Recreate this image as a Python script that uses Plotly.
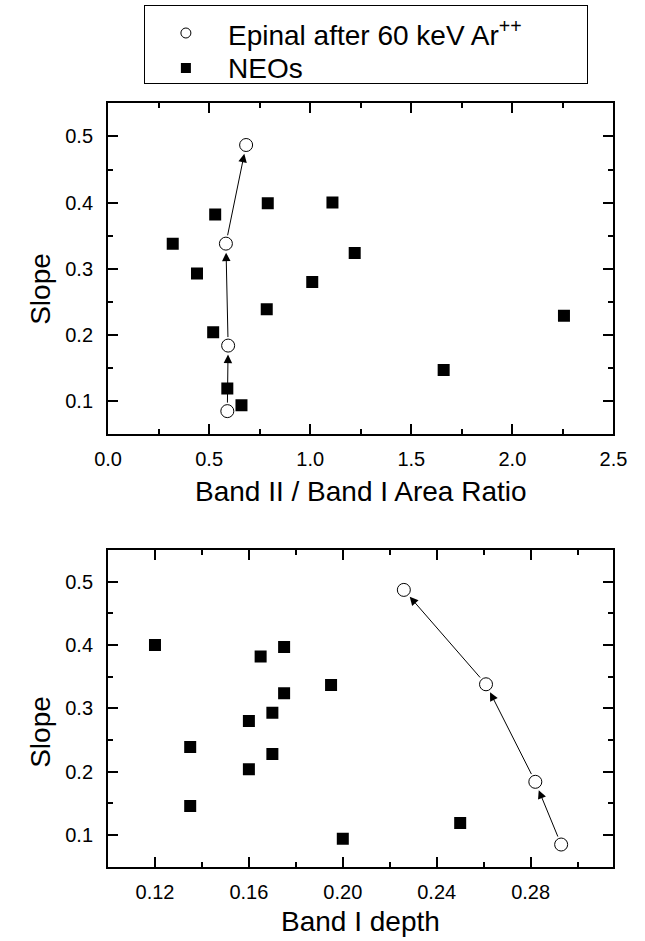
import plotly.graph_objects as go

# ---------------- data ----------------
# NEOs (same objects in both panels)
neo_ratio = [0.32, 0.44, 0.53, 0.52, 0.59, 0.66, 0.79, 0.785, 1.01, 1.11, 1.22, 1.66, 2.255]
neo_slope_top = [0.338, 0.293, 0.382, 0.204, 0.119, 0.094, 0.399, 0.239, 0.280, 0.400, 0.324, 0.147, 0.229]

neo_depth = [0.120, 0.165, 0.175, 0.195, 0.175, 0.170, 0.160, 0.135, 0.170, 0.160, 0.135, 0.200, 0.250]
neo_slope_bot = [0.400, 0.382, 0.397, 0.337, 0.324, 0.293, 0.280, 0.239, 0.228, 0.204, 0.146, 0.094, 0.119]

# Epinal after 60 keV Ar++ (irradiation sequence)
epi_ratio = [0.590, 0.594, 0.583, 0.683]
epi_depth = [0.293, 0.282, 0.261, 0.226]
epi_slope = [0.085, 0.184, 0.338, 0.487]

legend_labels = ["Epinal after 60 keV Ar<sup>++</sup>", "NEOs"]
x_title_top = "Band II / Band I Area Ratio"
x_title_bot = "Band I depth"
y_title = "Slope"

# ---------------- figure ----------------
W, H = 645, 941
FONT = "Liberation Sans, Arial, sans-serif"

def px_x(p):
    return p / W

def px_y(p):
    return 1 - p / H

fig = go.Figure()

sq = dict(symbol="square", size=12, color="black", line=dict(width=0))
circ = dict(symbol="circle", size=13, color="white", line=dict(color="black", width=1))

fig.add_trace(go.Scatter(x=neo_ratio, y=neo_slope_top, mode="markers", marker=sq,
                         name="NEOs", showlegend=False, xaxis="x", yaxis="y"))
fig.add_trace(go.Scatter(x=epi_ratio, y=epi_slope, mode="markers", marker=circ,
                         name="Epinal after 60 keV Ar++", showlegend=False, xaxis="x", yaxis="y"))
fig.add_trace(go.Scatter(x=neo_depth, y=neo_slope_bot, mode="markers", marker=sq,
                         name="NEOs", showlegend=False, xaxis="x2", yaxis="y2"))
fig.add_trace(go.Scatter(x=epi_depth, y=epi_slope, mode="markers", marker=circ,
                         name="Epinal after 60 keV Ar++", showlegend=False, xaxis="x2", yaxis="y2"))

# legend glyphs (drawn in a box-axis)
leg_marker_x = [43, 43]
leg_marker_y = [27, 62]
fig.add_trace(go.Scatter(x=[leg_marker_x[0]], y=[leg_marker_y[0]], mode="markers",
                         marker=dict(symbol="circle", size=10, color="white",
                                     line=dict(color="black", width=1)),
                         showlegend=False, hoverinfo="skip", xaxis="x3", yaxis="y3"))
fig.add_trace(go.Scatter(x=[leg_marker_x[1]], y=[leg_marker_y[1]], mode="markers",
                         marker=dict(symbol="square", size=10, color="black"),
                         showlegend=False, hoverinfo="skip", xaxis="x3", yaxis="y3"))

annotations = []
for i, lab in enumerate(legend_labels):
    annotations.append(dict(x=85, y=leg_marker_y[i], xref="x3", yref="y3", text=lab,
                            showarrow=False, xanchor="left", yanchor="middle",
                            font=dict(family=FONT, size=28, color="black")))

# arrows between successive Epinal points
def add_arrows(xs, ys, xr, yr):
    for i in range(len(xs) - 1):
        annotations.append(dict(x=xs[i + 1], y=ys[i + 1], ax=xs[i], ay=ys[i],
                                xref=xr, yref=yr, axref=xr, ayref=yr, text="",
                                showarrow=True, arrowhead=2, arrowsize=1.7, arrowwidth=1,
                                arrowcolor="black", standoff=9, startstandoff=7))

add_arrows(epi_ratio, epi_slope, "x", "y")
add_arrows(epi_depth, epi_slope, "x2", "y2")

tfont = dict(family=FONT, size=28, color="black")
annotations += [
    dict(x=px_x(362.5), y=px_y(491.7), xref="paper", yref="paper", text=x_title_top,
         showarrow=False, xanchor="center", yanchor="middle", font=tfont),
    dict(x=px_x(362.5), y=px_y(921.7), xref="paper", yref="paper", text=x_title_bot,
         showarrow=False, xanchor="center", yanchor="middle", font=tfont),
    dict(x=px_x(27), y=px_y(289), xref="paper", yref="paper", text=y_title,
         showarrow=False, textangle=-90, xanchor="center", yanchor="middle", font=tfont),
    dict(x=px_x(27), y=px_y(732), xref="paper", yref="paper", text=y_title,
         showarrow=False, textangle=-90, xanchor="center", yanchor="middle", font=tfont),
]

XDOM = [px_x(98.3), px_x(626.7)]

def axis(domain, rng, dtick, minor_dtick, fmt, anchor, standoff):
    return dict(domain=domain, range=rng, dtick=dtick, tick0=0, tickformat=fmt,
                anchor=anchor, showgrid=False, zeroline=False,
                showline=True, linecolor="black", linewidth=2, mirror="ticks",
                ticks="inside", ticklen=10, tickwidth=1.5, tickcolor="black",
                minor=dict(ticks="inside", ticklen=5, tickwidth=1.5, tickcolor="black",
                           dtick=minor_dtick, showgrid=False),
                tickfont=dict(family=FONT, size=20, color="black"),
                ticklabelstandoff=standoff)

fig.update_layout(
    width=W, height=H,
    margin=dict(l=0, r=0, t=0, b=0),
    paper_bgcolor="white", plot_bgcolor="white",
    showlegend=False,
    xaxis=axis(XDOM, [0, 2.5], 0.5, 0.25, ".1f", "y", 6),
    yaxis=axis([px_y(434.3), px_y(103.3)], [0.05, 0.55], 0.1, 0.05, ".1f", "x", 9),
    xaxis2=axis(XDOM, [0.10, 0.3153], 0.04, 0.02, ".2f", "y2", 6),
    yaxis2=axis([px_y(866.7), px_y(550)], [0.05, 0.55], 0.1, 0.05, ".1f", "x2", 9),
    xaxis3=dict(domain=[px_x(136.7), px_x(599.3)], range=[0, 462.6], anchor="y3",
                showline=True, mirror=True, linecolor="black", linewidth=1,
                showgrid=False, zeroline=False, showticklabels=False, ticks=""),
    yaxis3=dict(domain=[px_y(83.3), px_y(6)], range=[77.3, 0], anchor="x3",
                showline=True, mirror=True, linecolor="black", linewidth=1,
                showgrid=False, zeroline=False, showticklabels=False, ticks=""),
    annotations=annotations,
)

fig.write_html("out.html")
